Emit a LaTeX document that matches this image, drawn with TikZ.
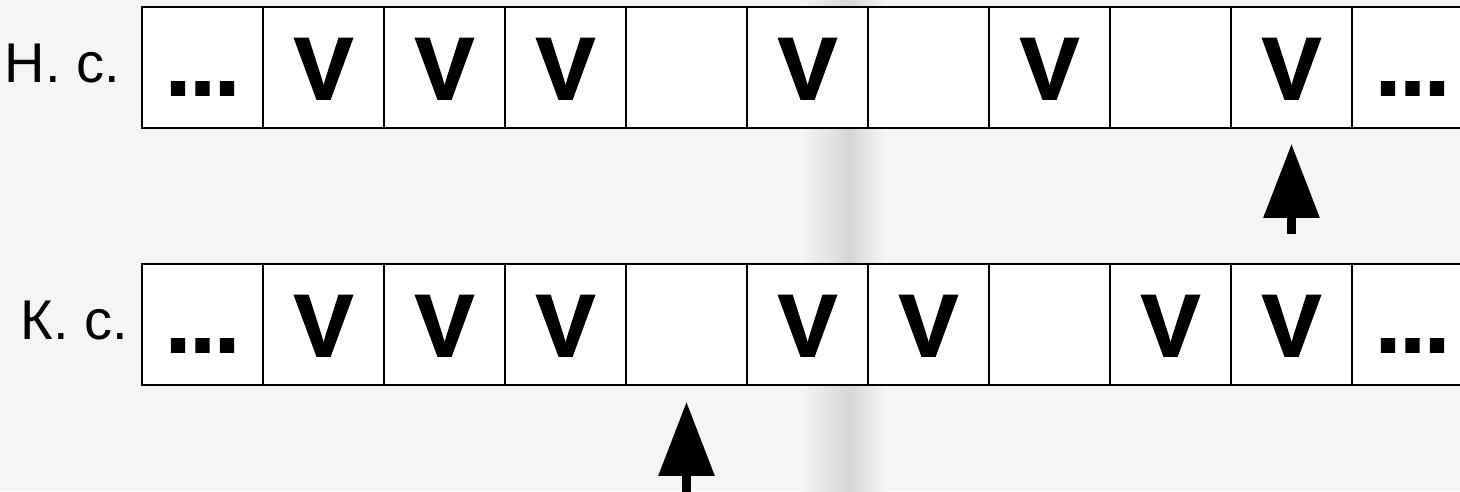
\documentclass[tikz,border=0pt]{standalone}
\usepackage{fontspec}
\setmainfont{Liberation Sans}
\newfontfamily\cellfont{Liberation Sans Bold}[FakeBold=2]
\usetikzlibrary{positioning,arrows.meta}
\definecolor{paper}{HTML}{F5F5F5}
\definecolor{fold}{HTML}{D6D6D6}
\newcommand{\ellip}{\raisebox{4pt}{...}}

\begin{document}
\begin{tikzpicture}[x=1pt,y=-1pt,
  cell/.style={draw,line width=1.6pt,fill=white,minimum width=121pt,minimum height=121pt,inner sep=0pt,
    text height=63pt,text depth=0pt,font=\fontsize{88}{88}\cellfont},
  rowlabel/.style={font=\fontsize{56}{60}\selectfont,inner sep=0pt,anchor=base east},
  pointer/.style={line width=9pt,-{Triangle[length=74pt,width=54pt]}}]
\clip (0,0) rectangle (1460,491);
\fill[paper] (0,0) rectangle (1460,491);
\shade[left color=paper,right color=fold] (800,0) rectangle (850,491);
\shade[left color=fold,right color=paper] (850,0) rectangle (885,491);
% initial state
\foreach \sym [count=\i] in {\ellip,V,V,V,{},V,{},V,{},V,\ellip}
  \node[cell] (h\i) at ({81.5+121*\i},67.5) {\sym};
% final state
\foreach \sym [count=\i] in {\ellip,V,V,V,{},V,V,{},V,V,\ellip}
  \node[cell] (k\i) at ({81.5+121*\i},324.5) {\sym};
\node[rowlabel] (hlab) at (120,82) {Н. с.};
\node[rowlabel] (klab) at (128,339) {К. с.};
% pointers
\coordinate[below=105pt of h10.south] (hfoot);
\coordinate[below=120pt of k5.south] (kfoot);
\draw[pointer,shorten >=15pt] (hfoot) -- (h10);
\draw[pointer,shorten >=16pt] (kfoot) -- (k5);
\end{tikzpicture}
\end{document}
